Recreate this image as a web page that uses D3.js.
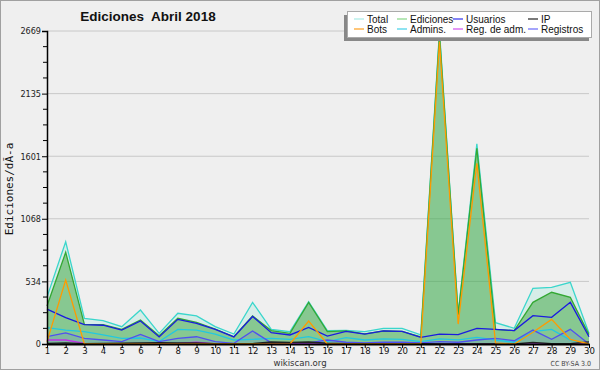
<!DOCTYPE html>
<html><head><meta charset="utf-8">
<script src="https://cdn.jsdelivr.net/npm/d3@7"></script>
<style>body{margin:0;background:#efefef}svg{display:block}</style>
</head><body>
<svg id="c" width="600" height="370"></svg>
<script>
const days = d3.range(1, 31);
const total     = [400, 872, 219, 199, 148, 290, 91, 262, 240, 148, 85, 355, 125, 105, 360, 114, 117, 105, 134, 134, 77, 2669, 260, 1706, 182, 134, 475, 483, 526, 91];
const ediciones = [324, 782, 168, 165, 125, 205, 71, 219, 185, 128, 62, 239, 114, 91, 355, 105, 112, 87, 111, 108, 60, 2640, 250, 1669, 125, 114, 355, 441, 398, 80];
const usuarios  = [298, 225, 165, 160, 118, 196, 60, 210, 175, 125, 60, 235, 97, 77, 142, 68, 108, 85, 111, 108, 57, 85, 80, 134, 125, 114, 242, 227, 355, 62];
const ip        = [6, 10, 3, 5, 7, 9, 11, 9, 10, 3, 2, 4, 17, 14, 17, 8, 4, 2, 0, 0, 3, 0, 0, 0, 0, 0, 13, 4, 3, 18];
const bots      = [20, 546, 0, 0, 0, 0, 0, 0, 0, 0, 0, 0, 0, 0, 196, 0, 0, 0, 0, 0, 0, 2580, 170, 1541, 8, 0, 100, 210, 40, 0];
const admins    = [139, 119, 105, 77, 48, 51, 20, 125, 119, 85, 34, 40, 48, 40, 62, 20, 54, 34, 43, 40, 20, 43, 35, 57, 34, 15, 105, 125, 34, 0];
const regadm    = [34, 34, 5, 0, 0, 0, 0, 5, 15, 0, 0, 0, 0, 0, 0, 0, 0, 0, 0, 0, 0, 0, 0, 0, 0, 0, 0, 0, 0, 0];
const registros = [62, 94, 48, 34, 20, 82, 20, 48, 62, 20, 5, 111, 10, 10, 10, 34, 15, 10, 15, 15, 10, 20, 15, 34, 48, 28, 119, 40, 125, 0];
const yTicks = [0, 534, 1068, 1601, 2135, 2669];
const yMax = 2669;

const svg = d3.select("#c");
svg.append("rect").attr("x",0.5).attr("y",0.5).attr("width",599).attr("height",369)
  .attr("fill","#efefef").attr("stroke","#a0a0a0");

const x = d3.scaleLinear().domain([1, 30]).range([47, 589]);
const y = d3.scaleLinear().domain([0, yMax]).range([344, 31]);

svg.append("g").selectAll("line").data(yTicks.slice(1)).join("line")
  .attr("x1", 47).attr("x2", 589).attr("y1", d => y(d)).attr("y2", d => y(d))
  .attr("stroke", "#c8c8c8").attr("stroke-width", 1);

const area = arr => d3.area().x((d,i)=>x(days[i])).y0(y(0)).y1(d=>y(d))(arr);
const line = arr => d3.line().x((d,i)=>x(days[i])).y(d=>y(d))(arr);

svg.append("path").attr("d", area(total)).attr("fill", "#40e0c0").attr("fill-opacity", 0.14);
svg.append("path").attr("d", area(ediciones)).attr("fill", "#37a339").attr("fill-opacity", 0.5);
svg.append("path").attr("d", area(registros)).attr("fill", "#6060ff").attr("fill-opacity", 0.15);

const series = [
  {name:"Total", data: total, color:"#3ad6cc", leg:"#a8ece6"},
  {name:"Ediciones", data: ediciones, color:"#33a833", leg:"#88d888"},
  {name:"Usuarios", data: usuarios, color:"#1a1ae0", leg:"#3333ee"},
  {name:"IP", data: ip, color:"#222222", leg:"#222222"},
  {name:"Bots", data: bots, color:"#ff9a00", leg:"#ffa020"},
  {name:"Admins.", data: admins, color:"#22c8e0", leg:"#44d0e8"},
  {name:"Reg. de adm.", data: regadm, color:"#c030e8", leg:"#d050f0"},
  {name:"Registros", data: registros, color:"#5050f0", leg:"#6a6af8"}
];
const drawOrder = ["Total","Ediciones","Admins.","Registros","Reg. de adm.","IP","Usuarios","Bots"];
drawOrder.forEach(n => {
  const s = series.find(t => t.name === n);
  svg.append("path").attr("d", line(s.data)).attr("fill","none")
    .attr("stroke", s.color).attr("stroke-width", 1.3).attr("stroke-linejoin","miter");
});

const yAxis = svg.append("g").attr("transform","translate(47,0)")
  .call(d3.axisLeft(y).tickValues(yTicks).tickSize(5).tickFormat(d3.format("d")));
yAxis.select(".domain").attr("stroke","#000").attr("stroke-width",1.5);
yAxis.selectAll("text").attr("font-family","DejaVu Sans Condensed, DejaVu Sans").attr("font-size","9px").attr("fill","#222").attr("x",-6);
const minor = [];
for (let i = 0; i < yTicks.length - 1; i++) for (let k = 1; k < 4; k++) minor.push(yMax * (i * 4 + k) / 20);
svg.append("g").selectAll("line").data(minor).join("line")
  .attr("x1", 43).attr("x2", 47).attr("y1", d => y(d)).attr("y2", d => y(d)).attr("stroke","#000");

const xAxis = svg.append("g").attr("transform","translate(0,344)")
  .call(d3.axisBottom(x).tickValues(days).tickSize(4).tickSizeOuter(0).tickFormat(d3.format("d")));
xAxis.select(".domain").attr("stroke","#000").attr("stroke-width",2);
xAxis.selectAll("text").attr("font-family","DejaVu Sans Condensed, DejaVu Sans").attr("font-size","9.5px").attr("fill","#111").attr("y",3);

svg.append("text").attr("x",148).attr("y",21).attr("text-anchor","middle")
  .attr("font-family","Liberation Sans, Arial").attr("font-weight","bold").attr("font-size","13.5px").attr("fill","#111")
  .style("white-space","pre").text("Ediciones  Abril 2018");
svg.append("text").attr("transform","translate(13,189) rotate(-90)").attr("text-anchor","middle")
  .attr("font-family","DejaVu Sans Mono").attr("font-size","11px").attr("fill","#111").text("Ediciones/dÃ-a");
svg.append("text").attr("x",300).attr("y",366).attr("text-anchor","middle")
  .attr("font-family","DejaVu Sans Condensed, DejaVu Sans").attr("font-size","9.5px").attr("fill","#333").text("wikiscan.org");
svg.append("text").attr("x",591).attr("y",366).attr("text-anchor","end")
  .attr("font-family","DejaVu Sans Condensed, DejaVu Sans").attr("font-size","7px").attr("fill","#444").text("CC BY-SA 3.0");

const lg = svg.append("g");
lg.append("rect").attr("x",344).attr("y",15).attr("width",245).attr("height",26).attr("fill","#888");
lg.append("rect").attr("x",347.5).attr("y",11.5).attr("width",244).attr("height",26).attr("fill","#fff").attr("stroke","#aaa");
const colX = [354, 397, 453, 528];
const rowY = [19, 29];
series.forEach((s, i) => {
  const cx = colX[i % 4], cy = rowY[Math.floor(i / 4)];
  lg.append("line").attr("x1",cx).attr("x2",cx+10).attr("y1",cy).attr("y2",cy).attr("stroke",s.leg).attr("stroke-width",1.2);
  lg.append("text").attr("x",cx+13).attr("y",cy+3.5).attr("font-family","Liberation Sans, Arial").attr("font-size","10px").attr("fill","#111").text(s.name);
});
</script>
</body></html>
